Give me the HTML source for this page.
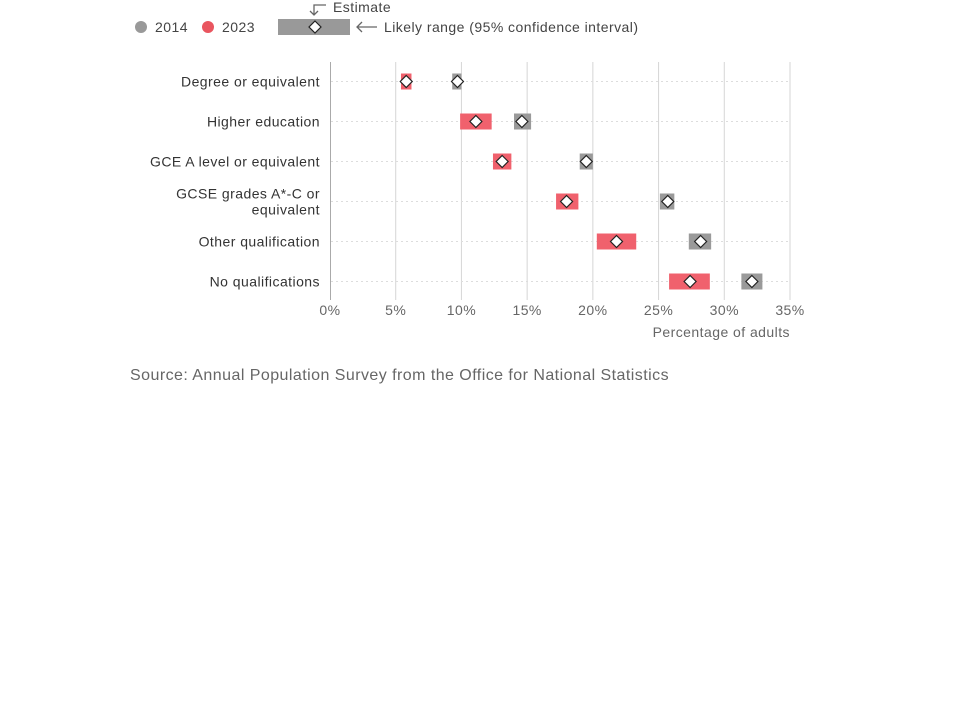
<!DOCTYPE html>
<html><head><meta charset="utf-8"><style>
body{margin:0;background:#fff;font-family:"Liberation Sans",sans-serif;}
svg text{font-family:"Liberation Sans",sans-serif;letter-spacing:0.45px;}
</style></head><body>
<svg width="960" height="720">
<g id="legend">
  <circle cx="141" cy="27" r="6" fill="#999"/>
  <text x="155" y="32" font-size="14" fill="#444">2014</text>
  <circle cx="208" cy="27" r="6" fill="#e9555f"/>
  <text x="222" y="32" font-size="14" fill="#444">2023</text>
  <rect x="278" y="19" width="72" height="16" fill="#999"/>
  <polygon points="315,21 321,27 315,33 309,27" fill="#fff" stroke="#222" stroke-width="1.2"/>
  <path d="M326 5 H314 V15 M310 11 L314 15 L318 11" fill="none" stroke="#666" stroke-width="1.3"/>
  <text x="333" y="12" font-size="14" fill="#444">Estimate</text>
  <path d="M377 27 H357 M362 22 L357 27 L362 32" fill="none" stroke="#666" stroke-width="1.3"/>
  <text x="384" y="32" font-size="14" fill="#444">Likely range (95% confidence interval)</text>
</g>
<g id="plot"></g>
<text x="790" y="337" font-size="14" fill="#666" text-anchor="end">Percentage of adults</text>
<text x="130" y="380" font-size="16" fill="#666">Source: Annual Population Survey from the Office for National Statistics</text>
</svg>
<script>
const categories=["Degree or equivalent","Higher education","GCE A level or equivalent","GCSE grades A*-C or|equivalent","Other qualification","No qualifications"];
const est2023=[5.8,11.1,13.1,18.0,21.8,27.4];
const lo2023=[5.4,9.9,12.4,17.2,20.3,25.8];
const hi2023=[6.2,12.3,13.8,18.9,23.3,28.9];
const est2014=[9.7,14.6,19.5,25.7,28.2,32.1];
const lo2014=[9.3,14.0,19.0,25.1,27.3,31.3];
const hi2014=[10.0,15.3,20.0,26.2,29.0,32.9];
const ticks=[0,5,10,15,20,25,30,35];
const tickLabels=["0%","5%","10%","15%","20%","25%","30%","35%"];

const NS="http://www.w3.org/2000/svg";
const g=document.getElementById('plot');
const x=v=>330+v*(460/35);
const y=i=>81.5+i*40;
function mk(t,a){const e=document.createElementNS(NS,t);for(const k in a)e.setAttribute(k,a[k]);g.appendChild(e);return e;}
ticks.forEach((t,i)=>{
  if(i>0){const l=mk('line',{x1:x(t),x2:x(t),y1:62,y2:300,stroke:'#d6d6d6','stroke-width':1});
  
  }
  const tx=mk('text',{x:x(t),y:315,'font-size':14,fill:'#666','text-anchor':'middle'});tx.textContent=tickLabels[i];
  
  
});
const ax=mk('line',{x1:330.5,x2:330.5,y1:62,y2:300,stroke:'#aaa','stroke-width':1});


categories.forEach((c,i)=>{
  const gl=mk('line',{x1:331,x2:790,y1:y(i),y2:y(i),stroke:'#ddd','stroke-dasharray':'2,3'});
  
  
  const parts=c.split('|');
  parts.forEach((p,j)=>{
    const t=mk('text',{x:320,y:y(i)+5+(j-(parts.length-1)/2)*16,'font-size':14,fill:'#333','text-anchor':'end'});t.textContent=p;
    
    
  });
  [[lo2023,hi2023,est2023,'#f0616d','2023'],[lo2014,hi2014,est2014,'#9a9a9a','2014']].forEach(s=>{
    const r=mk('rect',{x:x(s[0][i]),y:y(i)-8,width:x(s[1][i])-x(s[0][i]),height:16,fill:s[3]});
    
    
    const cx=x(s[2][i]),cy=y(i);
    const d=mk('polygon',{points:`${cx},${cy-6} ${cx+6},${cy} ${cx},${cy+6} ${cx-6},${cy}`,fill:'#fff',stroke:'#222','stroke-width':1.2});
    
    
  });
});
</script>
</body></html>
